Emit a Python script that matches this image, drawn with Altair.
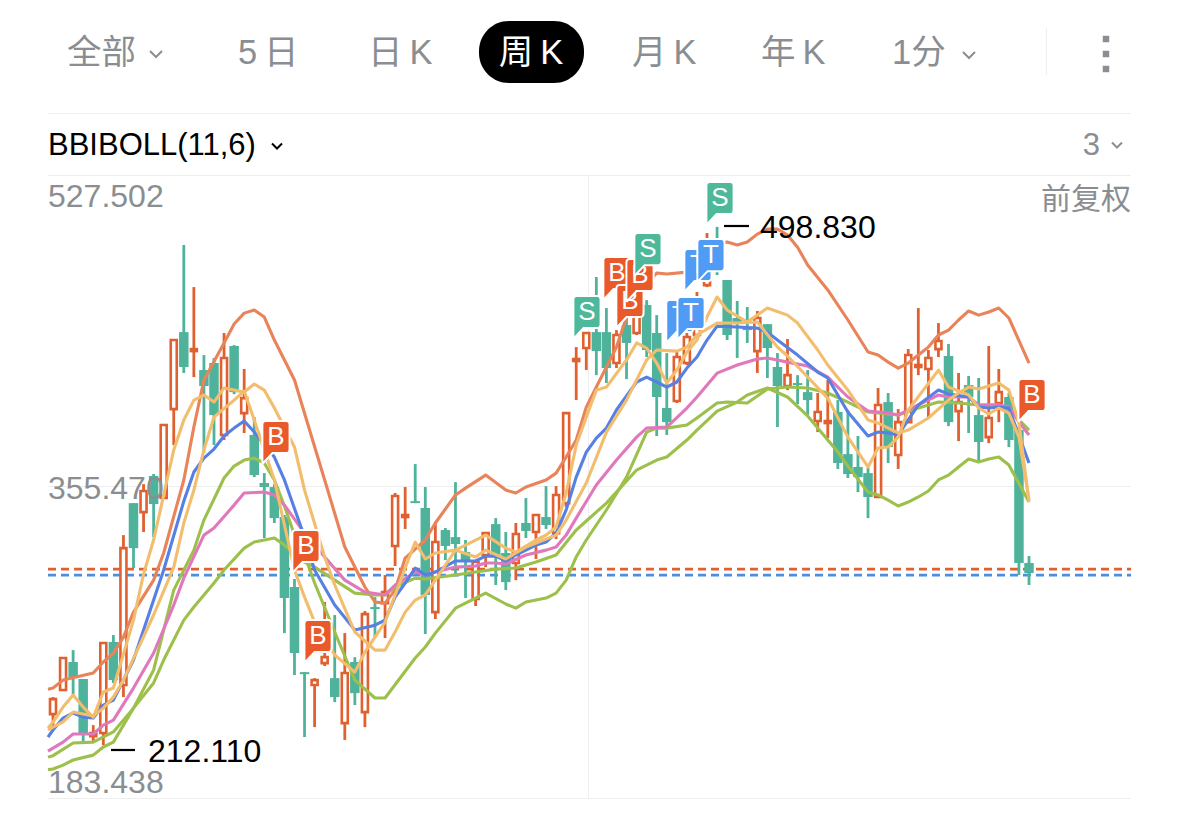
import altair as alt
import pandas as pd

# ---- candles: open / close / high / low
bar_dir = list("OOGGOOGOGOGOOGOGGOGOGGGGGGOOGOGOGOOOGGOGGGOOGGOGOGOOOOGGOGOGGGOOOOGGGGOGGOGGOOGGGGOGOOOOOGOGGOOGGG")
body_top = [237.6,260.3,258.1,248.7,218.8,268.6,269.2,321.1,346,352.7,361,389.2,436.2,440.6,431.2,419.6,423.5,426.3,432.9,404.1,
            383.7,357.1,354.9,338.3,299.6,252.5,248.1,260.8,249.2,252,258.1,284.6,288.5,296.8,349.9,339.4,347.1,343.3,324.5,331.1,
            327.2,318.9,313.4,329.4,334.4,318.4,328.9,335,339.4,338.3,350.5,395.8,425.7,440.1,440.6,440.6,439,444.5,452.8,455.6,
            440.1,398.6,426.8,437.9,450,474.9,491.5,469.4,448.4,442.9,448.4,445,421.3,416.8,412.4,407.4,396.4,391.4,396.4,373.1,
            366,362.6,400.3,401.9,390.8,427.9,422.4,426.3,435.7,427.4,401.9,411.3,394.7,393.1,407.4,404.7,386.4,312.9]
body_bot = [229.3,242.6,249.8,218.8,217.1,218.8,248.1,245.4,321.1,341,345.5,348.8,398,421.3,430.1,410.8,394.7,383.7,407.4,395.8,
            361.5,354.9,337.7,293.5,263.1,251.4,245.4,257.5,238.7,224.3,240.9,230.4,287.4,290.7,322.3,338.3,346,295.2,285.7,322.3,
            323.4,314.5,293,317.3,317.3,302.3,312.9,330.6,330,333.9,329.4,346,424.6,431.8,430.1,420.7,423.5,434.6,440.1,430.7,
            404.7,390.8,402.5,423.5,439,466.6,474.9,439,445.6,441.7,430.1,431.8,410.8,410.8,411.3,403,391.4,390.3,368.2,362.1,
            360.4,349.4,349.4,377,372.6,390.8,421.3,420.2,431.2,390.8,396.9,404.7,379.8,382.5,401.4,380.9,312.9,307.3]
high = [238.7,260.8,264.7,248.7,223.2,268.6,273,328.3,346,356.5,362.1,389.8,436.2,488.8,465.5,427.9,426.3,440.1,433.4,420.2,
        393.6,362.6,356.5,339.4,304,252.5,249.2,291.3,284.1,274.1,260.8,286.3,294,306.2,351.6,354.9,367.6,354.9,335,332.2,
        357.6,325.6,313.4,330,337.7,330,335,348.8,340,355.4,355.4,395.8,432.3,440.1,471.1,453.9,441.7,448.9,455.6,458.3,
        450,429,430.7,441.7,462.8,495.4,498.83,469.4,457.8,454.5,452.3,445,429,436.8,416.8,419.6,406.9,414.1,403,397.5,
        383.1,365.4,409.7,406.9,398,431.2,453.9,430.7,445.6,434,418,416.3,415.2,432.9,420.2,406.9,386.4,316.7]
low = [220.5,242,238.7,214.4,213.3,212.11,246.5,238.7,310.1,330,327.2,348.8,378.1,418,415.7,373.7,378.1,380.9,406.3,384.8,
       360.4,326.7,335,274.1,250.9,216.6,222.1,255.9,235.9,215,234.3,222.1,271.4,271.4,311.2,331.7,346,273.6,281.9,314.5,
       305.7,293.5,289.1,310.6,300.7,297.9,303.4,326.7,315.1,331.7,326.1,343.8,403,419.6,416.8,412.4,420.7,414.6,439,426.8,
       383.1,383.7,401.4,422.4,437.3,465.5,472.2,436.2,426.3,434.6,418,415.2,388.1,408.5,400.8,394.7,385.3,382,364.9,359.9,
       352.1,337.7,348.8,368.2,364.9,390.8,416.8,393.6,426.8,388.6,380.3,384.8,368.2,379.2,390.8,377,306.2,300.7]

# ---- indicator lines: week index / value (the first point is the part-week at the left edge)
up_i = [-0.5,0,1,4,5,6,7,8,10,11,13,14,15,17,18,19,20,21,22,24,27,29,31,32,33,34,35,37,38,40,41,43,45,46,47,49,50,51,52,53,54,56,57,58,60,61,63,64,65,66,67,68,69,70,71,72,73,74,75,77,79,81,82,83,84,85,86,87,88,89,90,91,92,93,94,95,97]
up_v = [243.1,243.7,248.1,252,258.1,263,271.9,285.7,303.4,318.4,358.8,388.1,414.1,434.6,445.1,451.1,452.8,448.9,436.2,414.1,358.8,321.7,299.6,291.3,290.7,297.9,315.6,325.6,335,350.5,354.3,361.5,353.2,351.6,354.9,358.8,362.6,371.5,380.9,399.1,410.2,432.3,448.9,461.1,473.3,472.7,473.8,476,483.2,488.8,490.4,488.8,490.4,494.8,497.6,497.6,494.3,487.6,477.7,463.9,447.3,429.6,427.9,424,420.7,423.5,427.9,432.3,439,441.7,447.3,452.3,450,451.7,453.9,448.4,423.5]

blue_i = [-0.5,0,1,2,3,4,5,6,8,10,11,13,14,15,16,17,18,19,20,22,23,25,26,28,30,32,33,34,35,36,37,38,40,42,43,44,45,46,48,49,50,51,52,53,54,55,56,58,59,60,61,62,63,64,65,66,68,70,71,72,74,76,77,79,81,82,83,84,86,88,89,91,92,93,94,95,97]
blue_v = [216.6,220.5,227.1,229.9,227.6,227.1,234.3,237,259.2,292.4,309,347.1,363.2,370.9,375.9,383.1,387.5,391.4,385.3,371.5,358.8,327.2,309,289.6,275.8,278.5,281.3,294,301.8,310.1,306.2,307.9,314,314,316.7,316.7,314,317.3,322.8,324.5,329.4,342.2,360.4,374.2,382,387.5,397.5,413,415.7,413,410.2,413,420.7,426.8,436.2,443.9,443.4,442.8,440.6,436.2,427.9,418.5,415.2,396.4,383.1,385.3,384.8,383.7,400.3,408.6,406.3,404.7,399.2,398.6,399.2,398.6,368.2]

pink_i = [-0.5,0,1,2,4,5,6,8,10,12,13,15,16,18,19,21,22,23,25,27,29,31,33,34,36,37,38,40,42,43,44,45,47,49,50,51,52,54,56,58,59,61,63,64,66,68,70,71,73,75,77,79,81,83,84,86,88,89,91,92,94,95,96,97]
pink_v = [208.8,210.5,213.8,218.3,218.3,223.2,226,243.7,263.1,289.6,304.5,328.3,332.2,344.9,351.6,352.1,350.5,344.9,329.4,316.2,303.4,296.8,295.2,300.7,307.9,306.2,307.9,310.6,311.2,312.9,312.9,312.3,317.3,320,321.7,328.3,337.7,356,369.8,382.5,387.5,388.1,398.6,404.7,417.9,422.4,425.7,426.3,424,421.8,415.7,404.7,397,395.8,394.7,400.3,405.8,404.7,404.7,400.3,400.3,399.2,390.8,383.7]

green_a_i = [-0.5,0,1,2,4,5,6,8,10,12,14,15,17,18,19,20,21,22,23,24,25,26,28,30,32,33,36,37,38,40,41,43,45,46,47,49,50,51,52,53,54,55,57,59,60,61,63,64,66,67,69,71,73,75,77,79,81,84,86,88,90,92,94,95,96,97]
green_a_v = [198.6,198.9,201.1,203.9,206.6,211.1,213.8,232.6,253.7,297.9,320,336.6,359.9,366.5,369.8,370.9,368.2,358.8,344.4,328.3,317.3,301.8,274.7,248.1,238.2,238.2,260.3,266.4,274.1,287.9,290.7,296.2,290.2,287.9,291.3,293.5,296.2,303.4,316.2,325.6,333.9,342.2,360.4,385.3,387.5,387.5,389.2,393.1,401.4,401.9,401.4,409.1,410.2,409.7,406.9,401.9,396.4,394.7,398.6,401.9,401.4,400.3,400.3,398.6,392,386.4]

green_b_i = [-0.5,0,2,4,6,8,10,11,13,14,16,17,19,20,22,23,25,26,28,30,32,33,34,36,37,40,42,44,46,48,50,52,53,55,58,60,61,63,64,66,68,69,71,73,75,77,78,79,80,81,82,83,84,85,86,87,88,89,90,91,92,93,94,95,97]
green_b_v = [205.5,206.3,213.3,213.8,219.4,232.6,246.5,259.2,281.3,288.5,301.8,309,321.1,324.5,326.7,322.8,313.4,310.6,303.4,296.2,295.2,295.2,299.6,304.5,304,306.2,307.9,309.5,310.1,313.4,317.3,331.1,336.1,346,364.3,369.8,371.5,380.9,386.4,396.9,401.9,405.8,409.7,404.7,394.2,380.9,374.3,366.5,359.3,352.1,350.5,347.7,344.4,346.6,349.4,352.7,358.8,361.5,366,370.4,368.7,370.4,371.5,367.1,346.6]

yel_a_i = [-0.5,0,1,2,3,4,5,6,8,9,10,11,12,13,14,15,16,17,19,20,21,22,24,25,27,28,30,32,33,34,35,36,37,38,40,42,43,45,46,47,50,51,53,55,57,58,59,60,62,63,64,66,68,70,72,73,77,79,81,82,83,84,85,88,89,91,92,93,94,95,96,97]
yel_a_v = [221.6,224.9,233.2,239.8,233.2,227.6,241.5,243.7,281.3,306.8,325.6,350.5,375.4,392,403,405.8,401.9,409.7,407.4,411.9,408.5,398.6,377,353.2,316.2,300.7,274.7,264.7,264.7,274.7,285.7,292.4,295.2,303.4,320,316.2,320,315.1,318.4,321.7,328.3,336.6,357.1,385.3,403,414.1,425.2,430.7,430.1,432.3,439,445.6,445.6,446.2,432.3,427.4,404.1,382.5,366,376.5,377,382.5,397.5,419.6,410.2,405.8,398.6,395.3,398.6,395.8,382.5,347.7]

yel_b_i = [-0.5,0,1,2,4,5,6,7,10,12,13,14,15,16,18,19,20,22,23,24,25,26,28,30,31,33,35,36,37,38,40,43,45,46,48,49,50,51,52,53,54,55,57,58,59,60,61,62,63,64,65,66,67,69,71,73,74,76,77,79,81,82,84,85,87,89,90,91,92,94,95,96,97]
yel_b_v = [220.5,222.1,225,230.4,228.2,232.6,238.7,248.1,284.1,310.6,335,353.2,375.4,393.6,403,408,392,358.8,333.9,309,294,280.2,262,252.5,263.6,280.2,310.1,324.5,315.1,318.4,320,328.3,321.1,318.9,325.6,328.3,332.8,351.6,378.1,393.6,408.5,410.2,425.2,434.6,431.8,423.5,412.4,419.6,429.6,436.2,449,460,452.8,446.2,453.9,450,445.6,430.7,422.4,408.5,392,390.3,384.8,386.4,393.1,403,406.9,410.2,409.1,412.4,408.5,390.3,346.6]

# ---- signal flags: letter, week index, price
flag_letter = ["S","B","B","B","S","B","T","T","T","T","S","B","B","B"]
flag_week   = [53.07,56.05,57.34,58.34,59.13,22.16,62.3,63.41,64.1,65.39,66.29,25.14,26.34,97.3]
flag_price  = [451.7,473.3,457.8,472.2,486.5,382.6,449.5,451.2,477.7,483.2,514.8,322.3,272.5,405.8]

# ---- labels
axis_labels = ["527.502","355.470","183.438"]
last_prices = [309.5,306.2]

tabs = [("全部",59),("5\u2009日",230),("日\u2009K",360),("月\u2009K",624),("年\u2009K",753),("1分",884)]

ORANGE = "#E0602F"
GREEN = "#4FB39B"
GRAY = "#8A8E92"
GRID = "#EEEEEE"
FONT = "Liberation Sans, Noto Sans CJK SC"
FLAG = {"B": "#E9592A", "S": "#4DB89A", "T": "#4F9BF5"}

xs = alt.Scale(domain=[0, 97], range=[45, 1021], nice=False, zero=False, padding=0)
ys = alt.Scale(domain=[183.438, 527.502], range=[789, 167], nice=False, zero=False)
X = alt.X("i:Q", scale=xs, axis=None)
Y = lambda f: alt.Y(f, scale=ys, axis=None, type="quantitative")

one = pd.DataFrame({"a": [0]})
def base():
    return alt.Chart(one)

def text(label, x, y, size, color, align="left", weight="normal"):
    return base().mark_text(fontSize=size, font=FONT, color=color, align=align,
                            baseline="middle", fontWeight=weight).encode(
        x=alt.value(x), y=alt.value(y), text=alt.value(label))

def hline(y, x0=40, x1=1123, color=GRID):
    return base().mark_rule(color=color, strokeWidth=1).encode(
        x=alt.value(x0), x2=alt.value(x1), y=alt.value(y))

CHEV = "M -1 -0.5 L 0 0.5 L 1 -0.5"
def chev(x, y, color, s=144):
    return base().mark_point(shape=CHEV, filled=False, size=s, stroke=color, strokeWidth=2, opacity=1).encode(
        x=alt.value(x), y=alt.value(y))

layers = []
# header
layers.append(base().mark_rect(color="#000000", cornerRadius=30).encode(
    x=alt.value(471), x2=alt.value(576), y=alt.value(13), y2=alt.value(75)))
for lab, x in tabs:
    layers.append(text(lab, x, 46, 34.5, GRAY))
layers.append(text("周\u2009K", 523, 46, 34.5, "#FFFFFF", align="center"))
layers.append(chev(148, 46, GRAY))
layers.append(chev(961, 47, GRAY))
layers.append(base().mark_rule(color=GRID, strokeWidth=1).encode(
    x=alt.value(1038.5), y=alt.value(20), y2=alt.value(67)))
for y in [31, 46, 61]:
    layers.append(base().mark_square(size=42, color="#8A8E92", opacity=1).encode(x=alt.value(1098), y=alt.value(y)))
layers.append(text("BBIBOLL(11,6)", 40, 138, 31, "#000000"))
layers.append(chev(269, 138, "#000000", 100))
layers.append(text("3", 1092, 138, 31, GRAY, align="right"))
layers.append(chev(1109, 137, GRAY, 100))

# grid
for y in [105, 167, 478, 790]:
    layers.append(hline(y + 0.5))
layers.append(base().mark_rule(color=GRID, strokeWidth=1).encode(
    x=alt.value(580.5), y=alt.value(167), y2=alt.value(790)))

layers.append(text("前复权", 1123, 192, 30, GRAY, align="right"))

# last-price lines
for p, c in zip(last_prices, [ORANGE, "#4A90E2"]):
    layers.append(alt.Chart(pd.DataFrame({"p": [p]})).mark_rule(
        color=c, strokeWidth=2.8, strokeDash=[8, 5]).encode(
        x=alt.value(40), x2=alt.value(1123), y=Y("p")))

# candles
df = pd.DataFrame({"i": range(len(high)), "d": bar_dir, "t": body_top, "b": body_bot, "h": high, "l": low})
up = df[df.d == "O"]
dn = df[df.d == "G"]
layers.append(alt.Chart(dn).mark_rule(color=GREEN, strokeWidth=2.8).encode(x=X, y=Y("h"), y2="l:Q"))
layers.append(alt.Chart(dn).mark_bar(color=GREEN, width=9.5).encode(x=X, y=Y("t"), y2="b:Q"))
layers.append(alt.Chart(up).mark_rule(color=ORANGE, strokeWidth=2.8).encode(x=X, y=Y("h"), y2="t:Q"))
layers.append(alt.Chart(up).mark_rule(color=ORANGE, strokeWidth=2.8).encode(x=X, y=Y("b"), y2="l:Q"))
layers.append(alt.Chart(up).mark_bar(fill="#FFFFFF", fillOpacity=0, stroke=ORANGE, strokeWidth=2.6, width=6).encode(x=X, y=Y("t"), y2="b:Q"))

# axis labels sit over the candles, as in the reference
for lab, y in zip(axis_labels, [189, 481, 775]):
    layers.append(text(lab, 40, y, 32, GRAY))

# indicator lines
series = [(up_i, up_v, "#E8835A"), (green_a_i, green_a_v, "#9DC04C"), (green_b_i, green_b_v, "#9DC04C"),
          (pink_i, pink_v, "#E079BC"), (blue_i, blue_v, "#5680E3"),
          (yel_a_i, yel_a_v, "#F2BE6E"), (yel_b_i, yel_b_v, "#F2BE6E")]
for ii, vv, c in series:
    layers.append(alt.Chart(pd.DataFrame({"i": ii, "v": vv})).mark_line(
        color=c, strokeWidth=3.1, strokeJoin="round").encode(x=X, y=Y("v")))

# flags
FLAG_PATH = ("M -0.75 -1.18 L 0.75 -1.18 Q 1 -1.18 1 -0.9 L 1 0.9 Q 1 1.18 0.75 1.18 "
             "L -0.25 1.18 L -0.95 1.93 L -1 1.9 L -1 -0.9 Q -1 -1.18 -0.75 -1.18 Z")
for L, w, p in zip(flag_letter, flag_week, flag_price):
    d = pd.DataFrame({"i": [w], "v": [p], "s": [L]})
    layers.append(alt.Chart(d).mark_point(shape=FLAG_PATH, filled=True, size=740, fill=FLAG[L],
                                          stroke="#FFFFFF", strokeWidth=2, opacity=1).encode(x=X, y=Y("v")))
    layers.append(alt.Chart(d).mark_text(font=FONT, fontSize=26, color="#FFFFFF", baseline="middle", align="center").encode(
        x=X, y=Y("v"), text="s:N"))

# high / low annotations
for x0, x1, yy, lab, tx in [(716, 741, 218, "498.830", 752), (103, 127, 742, "212.110", 140)]:
    layers.append(base().mark_rule(color="#000000", strokeWidth=2.2).encode(
        x=alt.value(x0), x2=alt.value(x1), y=alt.value(yy)))
    layers.append(text(lab, tx, yy + 1.5, 32, "#000000"))

chart = alt.layer(*layers).properties(
    width=1163, height=803, padding=0,
    autosize=alt.AutoSizeParams(type="none"), background="#FFFFFF",
).configure_view(stroke=None)

chart.save("out.html", embed_options={"renderer": "svg", "actions": False})
